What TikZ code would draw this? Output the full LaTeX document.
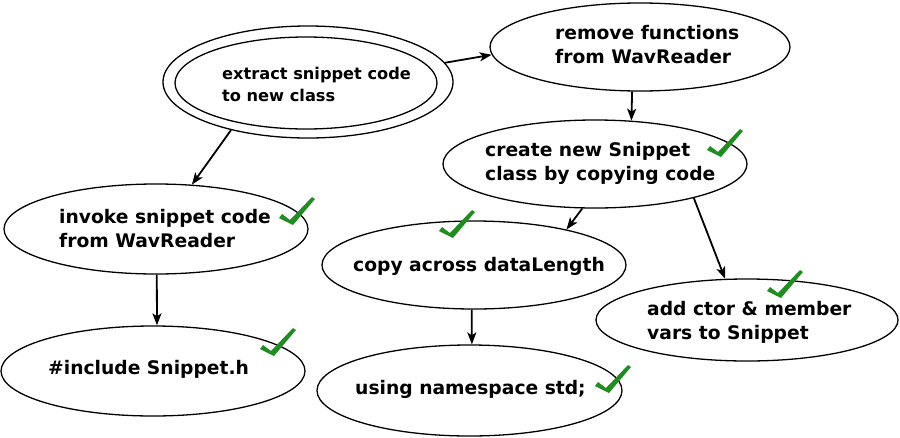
\documentclass[tikz,border=0pt]{standalone}
\usepackage{fontspec}
\setmainfont{DejaVu Sans}
\usetikzlibrary{shapes.geometric,arrows.meta}
\definecolor{chkgreen}{RGB}{34,139,34}
\begin{document}
\begin{tikzpicture}[x=1pt,y=-1pt,
  oval/.style={ellipse,draw,line width=1.3pt,inner sep=0pt},
  lbl/.style={anchor=west,align=left,inner sep=0pt,font=\bfseries\fontsize{18.7}{24}\selectfont},
  lblsmall/.style={anchor=west,align=left,inner sep=0pt,font=\bfseries\fontsize{16.2}{22}\selectfont},
  edgearrow/.style={line width=1.8pt,-{Stealth[length=12pt,width=9pt,inset=3pt]}},
  chkmark/.pic={\fill[chkgreen] (-13,-6) -- (-10,-10) -- (-2,-4) -- (20,-27) -- (23,-25) -- (1,1) -- cycle;}
]
\useasboundingbox (0,0) rectangle (900,437);
% ellipses
\node[oval,minimum width=290pt,minimum height=112pt] (extract) at (308,82) {};
\node[oval,minimum width=262pt,minimum height=92pt] (extractin) at (306,83) {};
\node[oval,minimum width=300pt,minimum height=88pt] (remove) at (640,47) {};
\node[oval,minimum width=304pt,minimum height=88pt] (create) at (595,164) {};
\node[oval,minimum width=304pt,minimum height=90pt] (invoke) at (156,229) {};
\node[oval,minimum width=304pt,minimum height=90pt] (include) at (153,371) {};
\node[oval,minimum width=302pt,minimum height=82pt] (add) at (747,320) {};
\node[oval,minimum width=304pt,minimum height=88pt] (copy) at (474,265) {};
\node[oval,minimum width=305pt,minimum height=91pt] (using) at (469.5,390.5) {};
% labels
\node[lblsmall] (textract) at (222,84) {extract snippet code\\to new class};
\node[lbl] (tremove) at (555,44.5) {remove functions\\from WavReader};
\node[lbl] (tcreate) at (485,163.5) {create new Snippet\\class by copying code};
\node[lbl] (tinvoke) at (59,229) {invoke snippet code\\from WavReader};
\node[lbl] (tinclude) at (48,369) {\#include Snippet.h};
\node[lbl] (tadd) at (647,322) {add ctor \& member\\vars to Snippet};
\node[lbl] (tcopy) at (353,266) {copy across dataLength};
\node[lbl] (tusing) at (355,389) {using namespace std;};
% check marks
\pic at (720,156) {chkmark};
\pic at (292,224) {chkmark};
\pic at (273,355) {chkmark};
\pic at (780,297) {chkmark};
\pic at (452,237) {chkmark};
\pic at (608,392) {chkmark};
% edges
\draw[edgearrow] (extract.8) -- (remove.183);
\draw[edgearrow] (extract.212) -- (invoke.51);
\draw[edgearrow] (remove.260) -- (create.50);
\draw[edgearrow] (create.254) -- (copy.21);
\draw[edgearrow] (create.341) -- (add.118);
\draw[edgearrow] (invoke.271) -- (include.85);
\draw[edgearrow] (copy.267) -- (using.87);
\end{tikzpicture}
\end{document}
